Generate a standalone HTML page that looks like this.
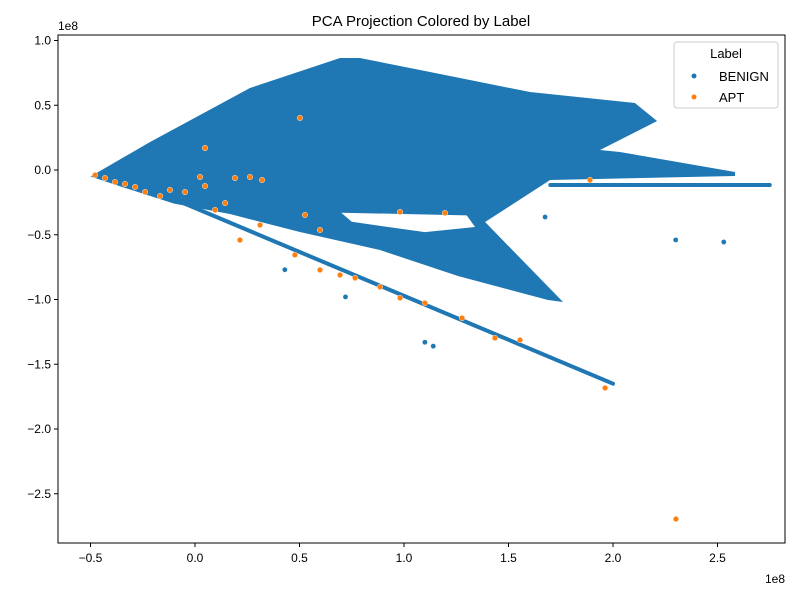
<!DOCTYPE html>
<html><head><meta charset="utf-8"><style>
body{margin:0;background:#fff;font-family:"Liberation Sans","DejaVu Sans",sans-serif}
svg text{font-family:"Liberation Sans","DejaVu Sans",sans-serif}
</style></head><body>
<svg id="chart" width="800" height="600">
<rect width="800" height="600" fill="#fff"/>
<text x="421" y="26" font-size="15" text-anchor="middle">PCA Projection Colored by Label</text>
<g id="marks"></g>
<g id="axes"></g>
<rect x="58" y="35" width="727" height="508" fill="none" stroke="#000" stroke-width="1"/>
<text x="58" y="30" font-size="12">1e8</text>
<text x="785" y="583" font-size="12" text-anchor="end">1e8</text>
<g>
<rect x="674" y="42" width="104" height="66" rx="3" fill="#fff" fill-opacity="0.8" stroke="#ccc"/>
<text x="726" y="58" font-size="13" text-anchor="middle">Label</text>
<g><circle cx="694" cy="76" r="2.5" fill="#1f77b4"/><text x="719" y="81" font-size="13">BENIGN</text></g>
<g><circle cx="694" cy="97" r="2.5" fill="#ff7f0e"/><text x="719" y="102" font-size="13">APT</text></g>
</g>
</svg>
<script>
const xTicks=[-0.5,0,0.5,1.0,1.5,2.0,2.5];
const xTickLabels=["−0.5","0.0","0.5","1.0","1.5","2.0","2.5"];
const yTicks=[1.0,0.5,0,-0.5,-1.0,-1.5,-2.0,-2.5];
const yTickLabels=["1.0","0.5","0.0","−0.5","−1.0","−1.5","−2.0","−2.5"];
const benignBodyX=[-0.50,-0.215,0.263,0.694,0.789,1.077,1.603,2.105,2.211,1.938,2.033,2.584,2.584,1.699,1.388,1.761,1.689,1.258,0.885,0.502,0.167,-0.10,-0.35];
const benignBodyY=[-0.05,0.216,0.633,0.865,0.865,0.772,0.602,0.517,0.378,0.154,0.139,-0.015,-0.046,-0.077,-0.402,-1.019,-1.004,-0.819,-0.618,-0.479,-0.340,-0.26,-0.13];
const gapX=[0.70,1.30,1.34,1.10,0.75];
const gapY=[-0.33,-0.35,-0.44,-0.48,-0.40];
const diagX=[-0.30,2.0];
const diagY=[-0.09,-1.65];
const bandX=[1.70,2.75];
const bandY=[-0.116,-0.116];
const benignOutX=[2.30,2.53,1.675,1.10,1.14,0.43,0.72];
const benignOutY=[-0.54,-0.556,-0.363,-1.33,-1.36,-0.77,-0.98];
const aptX=[-0.478,-0.431,-0.383,-0.335,-0.287,-0.239,-0.167,-0.120,-0.048,0.024,0.048,0.048,0.096,0.144,0.191,0.263,0.321,0.215,0.311,0.502,0.526,0.598,0.478,0.598,0.694,0.766,0.885,0.981,1.100,1.278,1.435,1.555,1.962,2.301,0.981,1.196,1.890];
const aptY=[-0.039,-0.062,-0.093,-0.108,-0.131,-0.170,-0.201,-0.154,-0.170,-0.054,-0.124,0.170,-0.309,-0.255,-0.062,-0.054,-0.077,-0.541,-0.425,0.402,-0.347,-0.463,-0.656,-0.772,-0.811,-0.834,-0.903,-0.988,-1.027,-1.143,-1.297,-1.313,-1.683,-2.695,-0.324,-0.332,-0.077];
const NS="http://www.w3.org/2000/svg";
function sx(v){return 195+v*209;}
function sy(v){return 170-v*129.5;}
const marks=document.getElementById('marks'),axes=document.getElementById('axes');
function mk(t,a,p){const e=document.createElementNS(NS,t);for(const k in a)e.setAttribute(k,a[k]);p.appendChild(e);return e;}
function poly(xs,ys,fill,name){const e=mk('polygon',{points:xs.map((x,i)=>sx(x)+','+sy(ys[i])).join(' '),fill:fill},marks);

}
function line(xs,ys,w,name){const e=mk('polyline',{points:xs.map((x,i)=>sx(x)+','+sy(ys[i])).join(' '),stroke:'#1f77b4','stroke-width':w,fill:'none','stroke-linecap':'round'},marks);

}
poly(benignBodyX,benignBodyY,'#1f77b4','benign-dense-region');
poly(gapX,gapY,'#fff','empty-gap-region');
line(diagX,diagY,4,'benign-diagonal-band');
line(bandX,bandY,4,'benign-horizontal-band');
benignOutX.forEach((x,i)=>{const c=mk('circle',{cx:sx(x),cy:sy(benignOutY[i]),r:2.6,fill:'#1f77b4',stroke:'#fff','stroke-width':0.4},marks);

});
aptX.forEach((x,i)=>{const c=mk('circle',{cx:sx(x),cy:sy(aptY[i]),r:2.8,fill:'#ff7f0e',stroke:'#fff','stroke-width':0.4},marks);

});
xTicks.forEach((v,i)=>{const x=sx(v);mk('line',{x1:x,x2:x,y1:543,y2:547,stroke:'#000'},axes);
const t=mk('text',{x:x,y:562,'font-size':12,'text-anchor':'middle'},axes);t.textContent=xTickLabels[i];

});
yTicks.forEach((v,i)=>{const y=sy(v);mk('line',{x1:54,x2:58,y1:y,y2:y,stroke:'#000'},axes);
const t=mk('text',{x:51,y:y+4,'font-size':12,'text-anchor':'end'},axes);t.textContent=yTickLabels[i];

});
</script>
</body></html>
